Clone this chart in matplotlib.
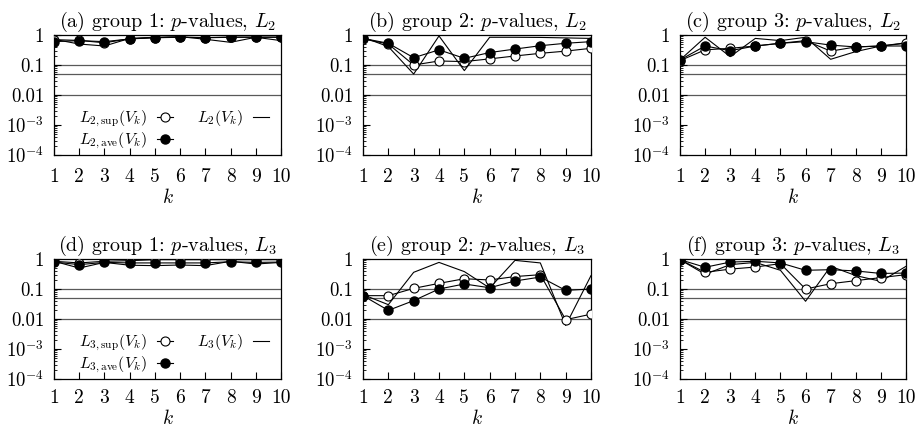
import numpy as np
import matplotlib
matplotlib.use("Agg")
import matplotlib.pyplot as plt
from matplotlib.ticker import LogLocator, NullFormatter, FixedLocator

plt.rcParams['font.family'] = 'serif'
plt.rcParams['font.serif'] = ['cmr10', 'DejaVu Serif']
plt.rcParams['mathtext.fontset'] = 'cm'
plt.rcParams['axes.unicode_minus'] = False

k = np.arange(1, 11)

# ---- L2 panels (groups 1-3) ----
a_sup = [0.70, 0.66, 0.55, 0.75, 0.82, 0.85, 0.82, 0.85, 0.85, 0.85]
a_ave = [0.60, 0.65, 0.60, 0.74, 0.81, 0.84, 0.81, 0.84, 0.84, 0.84]
a_L   = [0.72, 0.50, 0.43, 0.77, 0.84, 0.88, 0.72, 0.57, 0.84, 0.65]

b_sup = [0.74, 0.50, 0.10, 0.136, 0.13, 0.16, 0.20, 0.245, 0.29, 0.36]
b_ave = [0.77, 0.53, 0.175, 0.32, 0.167, 0.26, 0.34, 0.44, 0.53, 0.60]
b_L   = [0.84, 0.41, 0.05, 0.93, 0.065, 0.84, 0.84, 0.83, 0.80, 0.77]

c_sup = [0.14, 0.32, 0.36, 0.43, 0.53, 0.65, 0.29, 0.40, 0.43, 0.53]
c_ave = [0.147, 0.43, 0.30, 0.43, 0.53, 0.60, 0.46, 0.40, 0.43, 0.43]
c_L   = [0.147, 0.84, 0.19, 0.77, 0.65, 0.84, 0.155, 0.28, 0.43, 0.55]

# ---- L3 panels (groups 1-3) ----
d_sup = [0.84, 0.74, 0.84, 0.88, 0.95, 0.95, 0.95, 0.95, 0.95, 0.95]
d_ave = [0.79, 0.65, 0.77, 0.74, 0.74, 0.74, 0.74, 0.81, 0.77, 0.79]
d_L   = [0.84, 0.50, 0.77, 0.62, 0.60, 0.63, 0.60, 0.84, 0.68, 0.77]

e_sup = [0.06, 0.06, 0.105, 0.154, 0.22, 0.20, 0.26, 0.30, 0.0095, 0.0145]
e_ave = [0.06, 0.0194, 0.041, 0.10, 0.147, 0.11, 0.185, 0.25, 0.09, 0.10]
e_L   = [0.065, 0.03, 0.36, 0.77, 0.38, 0.108, 0.90, 0.74, 0.0061, 0.28]

f_sup = [0.95, 0.36, 0.46, 0.54, 0.70, 0.10, 0.15, 0.19, 0.24, 0.30]
f_ave = [0.95, 0.53, 0.79, 0.84, 0.74, 0.42, 0.44, 0.40, 0.33, 0.34]
f_L   = [0.95, 0.31, 0.65, 0.77, 0.42, 0.039, 0.57, 0.28, 0.18, 0.57]

titles = [r"(a) group 1: $p$-values, $L_2$", r"(b) group 2: $p$-values, $L_2$",
          r"(c) group 3: $p$-values, $L_2$", r"(d) group 1: $p$-values, $L_3$",
          r"(e) group 2: $p$-values, $L_3$", r"(f) group 3: $p$-values, $L_3$"]
ref_levels = [0.1, 0.05, 0.01]
ytick_vals = [1e-4, 1e-3, 1e-2, 1e-1, 1]
ytick_labels = [r"$10^{-4}$", r"$10^{-3}$", "0.01", "0.1", "1"]

panels = [(a_sup, a_ave, a_L), (b_sup, b_ave, b_L), (c_sup, c_ave, c_L),
          (d_sup, d_ave, d_L), (e_sup, e_ave, e_L), (f_sup, f_ave, f_L)]

W, H = 923, 428
fig = plt.figure(figsize=(W / 100, H / 100), dpi=100)
cols = [(54, 227), (363, 228), (680, 226)]
rows = [(35, 155), (259, 379)]
xpads = [9.5, 7.0]
kpads = [1.0, 1.5]

for i, (sup, ave, L) in enumerate(panels):
    r, c = divmod(i, 3)
    x0, w = cols[c]
    yt, yb = rows[r]
    ax = fig.add_axes([x0 / W, (H - yb) / H, w / W, (yb - yt) / H])
    ax.set_yscale('log')
    ax.set_xlim(1, 10)
    ax.set_ylim(1e-4, 1)
    for lv in ref_levels:
        ax.axhline(lv, color='0.35', lw=0.9, zorder=1)
    lL, = ax.plot(k, L, color='black', lw=0.8, zorder=2)
    lsup, = ax.plot(k, sup, color='black', lw=0.8, marker='o', ms=6.5,
                    mfc='white', mec='black', mew=0.8, zorder=3)
    lave, = ax.plot(k, ave, color='black', lw=0.8, marker='o', ms=6.5,
                    mfc='black', mec='black', zorder=4)
    ax.set_xticks(k)
    ax.set_xticklabels([str(v) for v in k], fontsize=14)
    ax.yaxis.set_major_locator(FixedLocator(ytick_vals))
    ax.set_yticklabels(ytick_labels, fontsize=13.5)
    ax.yaxis.set_minor_locator(LogLocator(base=10, subs=np.arange(2, 10), numticks=20))
    ax.yaxis.set_minor_formatter(NullFormatter())
    ax.tick_params(axis='both', which='major', direction='in', length=5, width=0.8,
                   top=False, right=False)
    ax.tick_params(axis='x', which='major', pad=xpads[r])
    ax.tick_params(axis='y', which='major', pad=7)
    ax.tick_params(axis='y', which='minor', direction='in', length=2.5, width=0.6,
                   right=False)
    for s in ax.spines.values():
        s.set_linewidth(0.9)
    ax.set_xlabel(r"$k$", fontsize=14, labelpad=kpads[r])
    ax.set_title(titles[i], fontsize=14.5, pad=6)
    if c == 0:
        n = '2' if r == 0 else '3'
        labels = [r"$L_{%s,\mathrm{sup}}(V_k)$" % n, r"$L_{%s,\mathrm{ave}}(V_k)$" % n,
                  r"$L_{%s}(V_k)$" % n]
        ax.legend([lsup, lave, lL], labels, ncol=2, frameon=False, markerfirst=False,
                  loc='lower left', bbox_to_anchor=(0.06, -0.06), fontsize=11.5,
                  handlelength=1.0, handletextpad=0.6, columnspacing=1.5,
                  labelspacing=0.1, borderpad=0.2)

fig.savefig("out.png", dpi=100)
